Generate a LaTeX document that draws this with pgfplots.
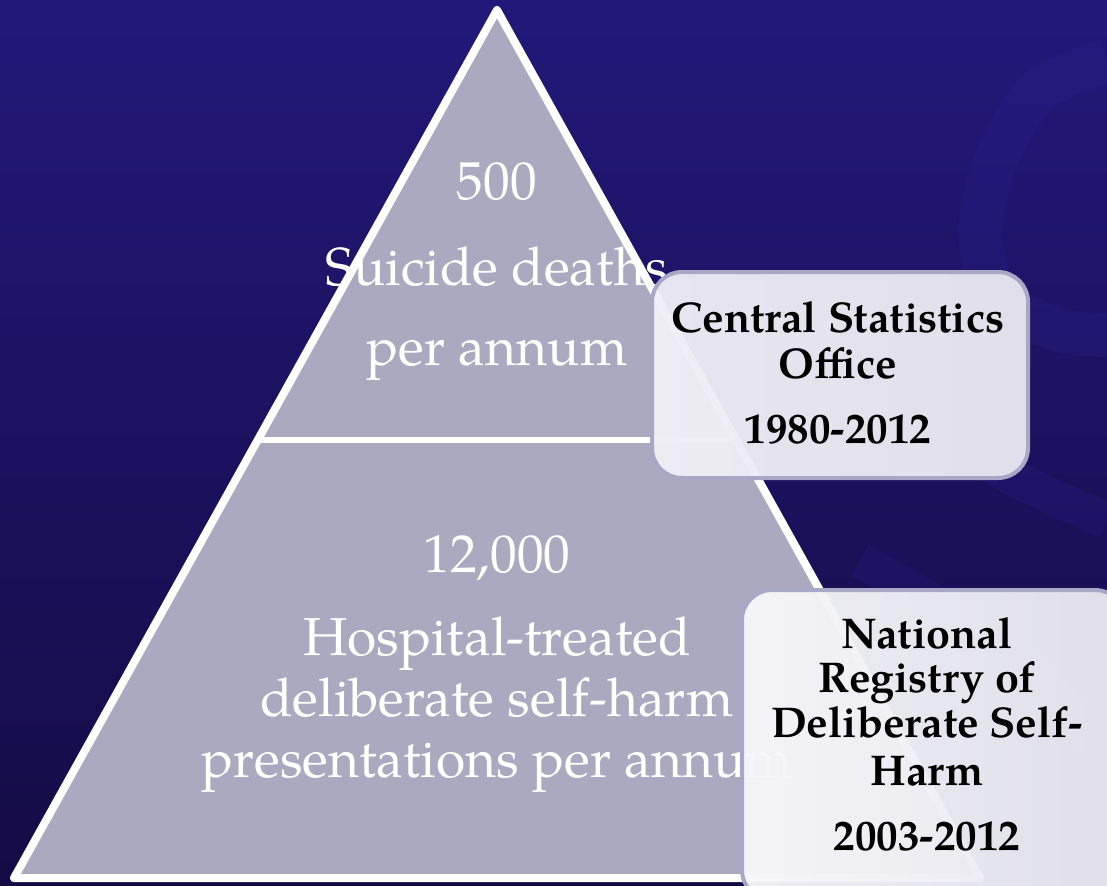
\documentclass[border=0pt]{standalone}
\usepackage{fontspec}
\setmainfont{TeX Gyre Pagella}
\usepackage{pgfplots}
\pgfplotsset{compat=1.18}
\definecolor{bgtop}{HTML}{221879}
\definecolor{bgmid}{HTML}{1E156E}
\definecolor{bgbot}{HTML}{140B45}
\definecolor{tri}{HTML}{ABA9C0}
\definecolor{boxedge}{HTML}{A9A7C6}
\definecolor{boxa}{HTML}{F0EFF6}
\definecolor{boxb}{HTML}{F7F7FA}
\definecolor{boxc}{HTML}{E9E8F1}
\definecolor{wm}{HTML}{2B2394}
\begin{document}
\begin{tikzpicture}
\begin{axis}[
  width=553.5pt, height=442.5pt, scale only axis,
  xmin=0, xmax=1107, ymin=0, ymax=885, y dir=reverse,
  hide axis, clip=true
]
% background
\addplot[draw=none, top color=bgtop, middle color=bgmid, bottom color=bgbot] coordinates {(0,0) (1107,0) (1107,885) (0,885)} -- cycle;
% faint watermark shapes
\addplot[draw=wm, line width=22pt, opacity=0.2, smooth] coordinates {(1107,60) (1040,90) (1000,150) (980,230) (1000,300) (1060,330) (1107,335)};
\addplot[draw=wm, line width=18pt, opacity=0.2, smooth] coordinates {(930,420) (1000,470) (1060,500) (1107,520)};
\addplot[draw=wm, line width=18pt, opacity=0.18, smooth] coordinates {(860,560) (930,600) (1000,640) (1060,700) (1107,760)};
% pyramid
\addplot[fill=tri, draw=white, line width=4pt, line join=round] coordinates {(497,10) (980,878) (14,878)} -- cycle;
\addplot[draw=white, line width=3pt] coordinates {(258,440) (736,440)};
% pyramid text
\begin{scope}[every node/.style={anchor=base, text=white, inner sep=0pt, font=\fontsize{26.7}{26.7}\selectfont}]
\node at (axis cs:497,199) {500};
\node at (axis cs:497,285) {Suicide deaths};
\node at (axis cs:497,365) {per annum};
\node at (axis cs:497,572) {12,000};
\node at (axis cs:497,655) {Hospital-treated};
\node at (axis cs:497,716) {deliberate self-harm};
\node at (axis cs:497,777) {presentations per annum};
\end{scope}
% boxes
\draw[rounded corners=15pt, left color=boxa, right color=boxc, fill opacity=0.96, draw=boxedge, line width=2pt] (axis cs:652,272) rectangle (axis cs:1028,478);
\draw[rounded corners=15pt, left color=boxb, right color=boxc, fill opacity=0.96, draw=boxedge, line width=2pt] (axis cs:742,590) rectangle (axis cs:1125,900);
\begin{scope}[every node/.style={anchor=base, text=black, inner sep=0pt, font=\fontsize{21.5}{21.5}\bfseries\selectfont}]
\node at (axis cs:838,332) {Central Statistics};
\node at (axis cs:838,378) {Office};
\node at (axis cs:838,443) {1980-2012};
\node at (axis cs:927,648) {National};
\node at (axis cs:927,692) {Registry of};
\node at (axis cs:927,737) {Deliberate Self-};
\node at (axis cs:927,785) {Harm};
\node at (axis cs:927,850) {2003-2012};
\end{scope}
\end{axis}
\pgfresetboundingbox
\path (current axis.south west) rectangle (current axis.north east);
\end{tikzpicture}
\end{document}
